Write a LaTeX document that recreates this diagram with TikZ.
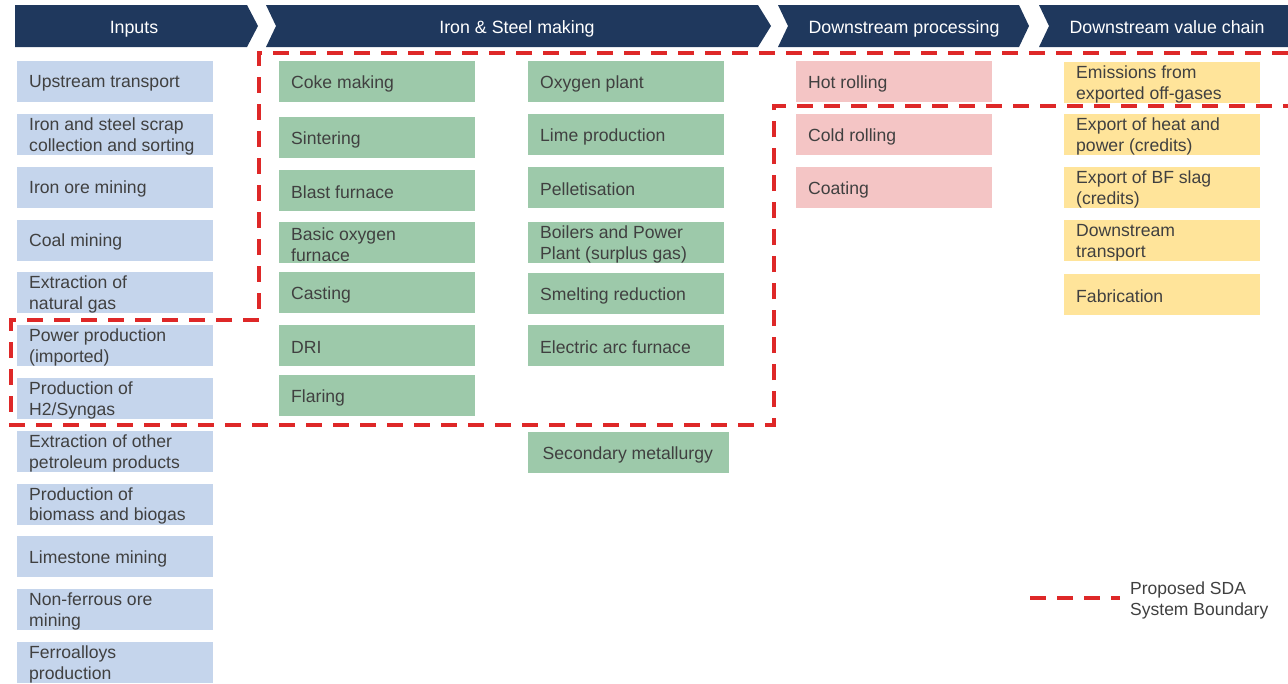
\documentclass[tikz,border=0pt]{standalone}
\usepackage{fontspec}
\setmainfont{Liberation Sans}
\definecolor{navy}{RGB}{31,56,93}
\definecolor{inblue}{RGB}{197,213,236}
\definecolor{procgreen}{RGB}{157,201,170}
\definecolor{rollpink}{RGB}{244,197,197}
\definecolor{chainyellow}{RGB}{255,228,154}
\definecolor{boundred}{RGB}{222,40,40}
\definecolor{textgray}{RGB}{64,64,64}
% left-aligned cell text, lowered a little so the capitals sit in the middle
\newcommand\celltext[1]{\raisebox{-1.8pt}[\height][\depth]{\parbox{172pt}{\raggedright #1}}}
\begin{document}
\begin{tikzpicture}[x=1pt,y=-1pt,
  cell/.style={rectangle, anchor=north west, minimum width=196, minimum height=41,
    inner xsep=12, inner ysep=0, text=textgray,
    font=\fontsize{17.6}{20.8}\selectfont},
  inbox/.style={cell, fill=inblue},
  greenbox/.style={cell, fill=procgreen},
  pinkbox/.style={cell, fill=rollpink},
  yellowbox/.style={cell, fill=chainyellow},
  headtext/.style={text=white, anchor=base, font=\fontsize{17.8}{21}\selectfont},
  boundary/.style={draw=boundred, line width=3.5, dash pattern=on 16 off 11},
]
\useasboundingbox (0,0) rectangle (1288,683);

% stage headers (chevrons)
\fill[navy] (15,5) -- (247,5) -- (258,26) -- (247,47) -- (15,47) -- cycle;
\fill[navy] (266,5) -- (758,5) -- (771,26) -- (758,47) -- (266,47) -- (276,26) -- cycle;
\fill[navy] (778,5) -- (1019,5) -- (1029,26) -- (1019,47) -- (778,47) -- (788,26) -- cycle;
\fill[navy] (1039,5) -- (1288,5) -- (1288,47) -- (1039,47) -- (1049,26) -- cycle;
\node[headtext] (hin) at (134,33.3) {Inputs};
\node[headtext] (hsteel) at (517,33.3) {Iron \& Steel making};
\node[headtext] (hproc) at (904,33.3) {Downstream processing};
\node[headtext] (hchain) at (1167,33.3) {Downstream value chain};

% inputs
\node[inbox] (i1)  at (17,61)    {\celltext{Upstream transport}};
\node[inbox] (i2)  at (17,113.8) {\celltext{Iron and steel scrap\\collection and sorting}};
\node[inbox] (i3)  at (17,166.6) {\celltext{Iron ore mining}};
\node[inbox] (i4)  at (17,219.4) {\celltext{Coal mining}};
\node[inbox] (i5)  at (17,272.2) {\celltext{Extraction of\\natural gas}};
\node[inbox] (i6)  at (17,325)   {\celltext{Power production\\(imported)}};
\node[inbox] (i7)  at (17,377.8) {\celltext{Production of\\H2/Syngas}};
\node[inbox] (i8)  at (17,430.6) {\celltext{Extraction of other\\petroleum products}};
\node[inbox] (i9)  at (17,483.4) {\celltext{Production of\\biomass and biogas}};
\node[inbox] (i10) at (17,536.2) {\celltext{Limestone mining}};
\node[inbox] (i11) at (17,589)   {\celltext{Non-ferrous ore\\mining}};
\node[inbox] (i12) at (17,641.8) {\celltext{Ferroalloys\\production}};

% iron and steel making, first column
\node[greenbox] (s1) at (279,61)  {\celltext{Coke making}};
\node[greenbox] (s2) at (279,117) {\celltext{Sintering}};
\node[greenbox] (s3) at (279,170) {\celltext{Blast furnace}};
\node[greenbox] (s4) at (279,222) {\celltext{Basic oxygen\\furnace}};
\node[greenbox] (s5) at (279,272) {\celltext{Casting}};
\node[greenbox] (s6) at (279,325) {\celltext{DRI}};
\node[greenbox] (s7) at (279,375) {\celltext{Flaring}};

% iron and steel making, second column
\node[greenbox] (t1) at (528,61)  {\celltext{Oxygen plant}};
\node[greenbox] (t2) at (528,114) {\celltext{Lime production}};
\node[greenbox] (t3) at (528,167) {\celltext{Pelletisation}};
\node[greenbox] (t4) at (528,222) {\celltext{Boilers and Power\\Plant (surplus gas)}};
\node[greenbox] (t5) at (528,273) {\celltext{Smelting reduction}};
\node[greenbox] (t6) at (528,325) {\celltext{Electric arc furnace}};
\node[greenbox, minimum width=201] (t7) at (528,432) {\celltext{Secondary metallurgy}};

% downstream processing
\node[pinkbox] (p1) at (796,61)  {\celltext{Hot rolling}};
\node[pinkbox] (p2) at (796,114) {\celltext{Cold rolling}};
\node[pinkbox] (p3) at (796,167) {\celltext{Coating}};

% downstream value chain
\node[yellowbox, inner xsep=11] (c1) at (1064,62)  {\celltext{Emissions from\\exported off-gases}};
\node[yellowbox, inner xsep=11] (c2) at (1064,114) {\celltext{Export of heat and\\power (credits)}};
\node[yellowbox, inner xsep=11] (c3) at (1064,167) {\celltext{Export of BF slag\\(credits)}};
\node[yellowbox, inner xsep=11] (c4) at (1064,220) {\celltext{Downstream\\transport}};
\node[yellowbox, inner xsep=11] (c5) at (1064,274) {\celltext{Fabrication}};

% system boundary
\coordinate (b0) at (1288,53);
\coordinate (b1) at (259,53);
\coordinate (b2) at (259,320);
\coordinate (b3) at (11,320);
\coordinate (b4) at (11,425);
\coordinate (b5) at (774,425);
\coordinate (b6) at (774,106);
\coordinate (b7) at (1288,106);
\draw[boundary] (b0) -- (b1) -- (b2) -- (b3) -- (b4) -- (b5) -- (b6) -- (b7);

% legend
\coordinate (l1) at (1030,598);
\coordinate (l2) at (1120,598);
\draw[boundary] (l1) -- (l2);
\node[anchor=west, align=left, text=textgray, inner sep=0,
  font=\fontsize{17.5}{21}\selectfont] (legend) at (1130,600)
  {Proposed SDA\\System Boundary};
\end{tikzpicture}
\end{document}
